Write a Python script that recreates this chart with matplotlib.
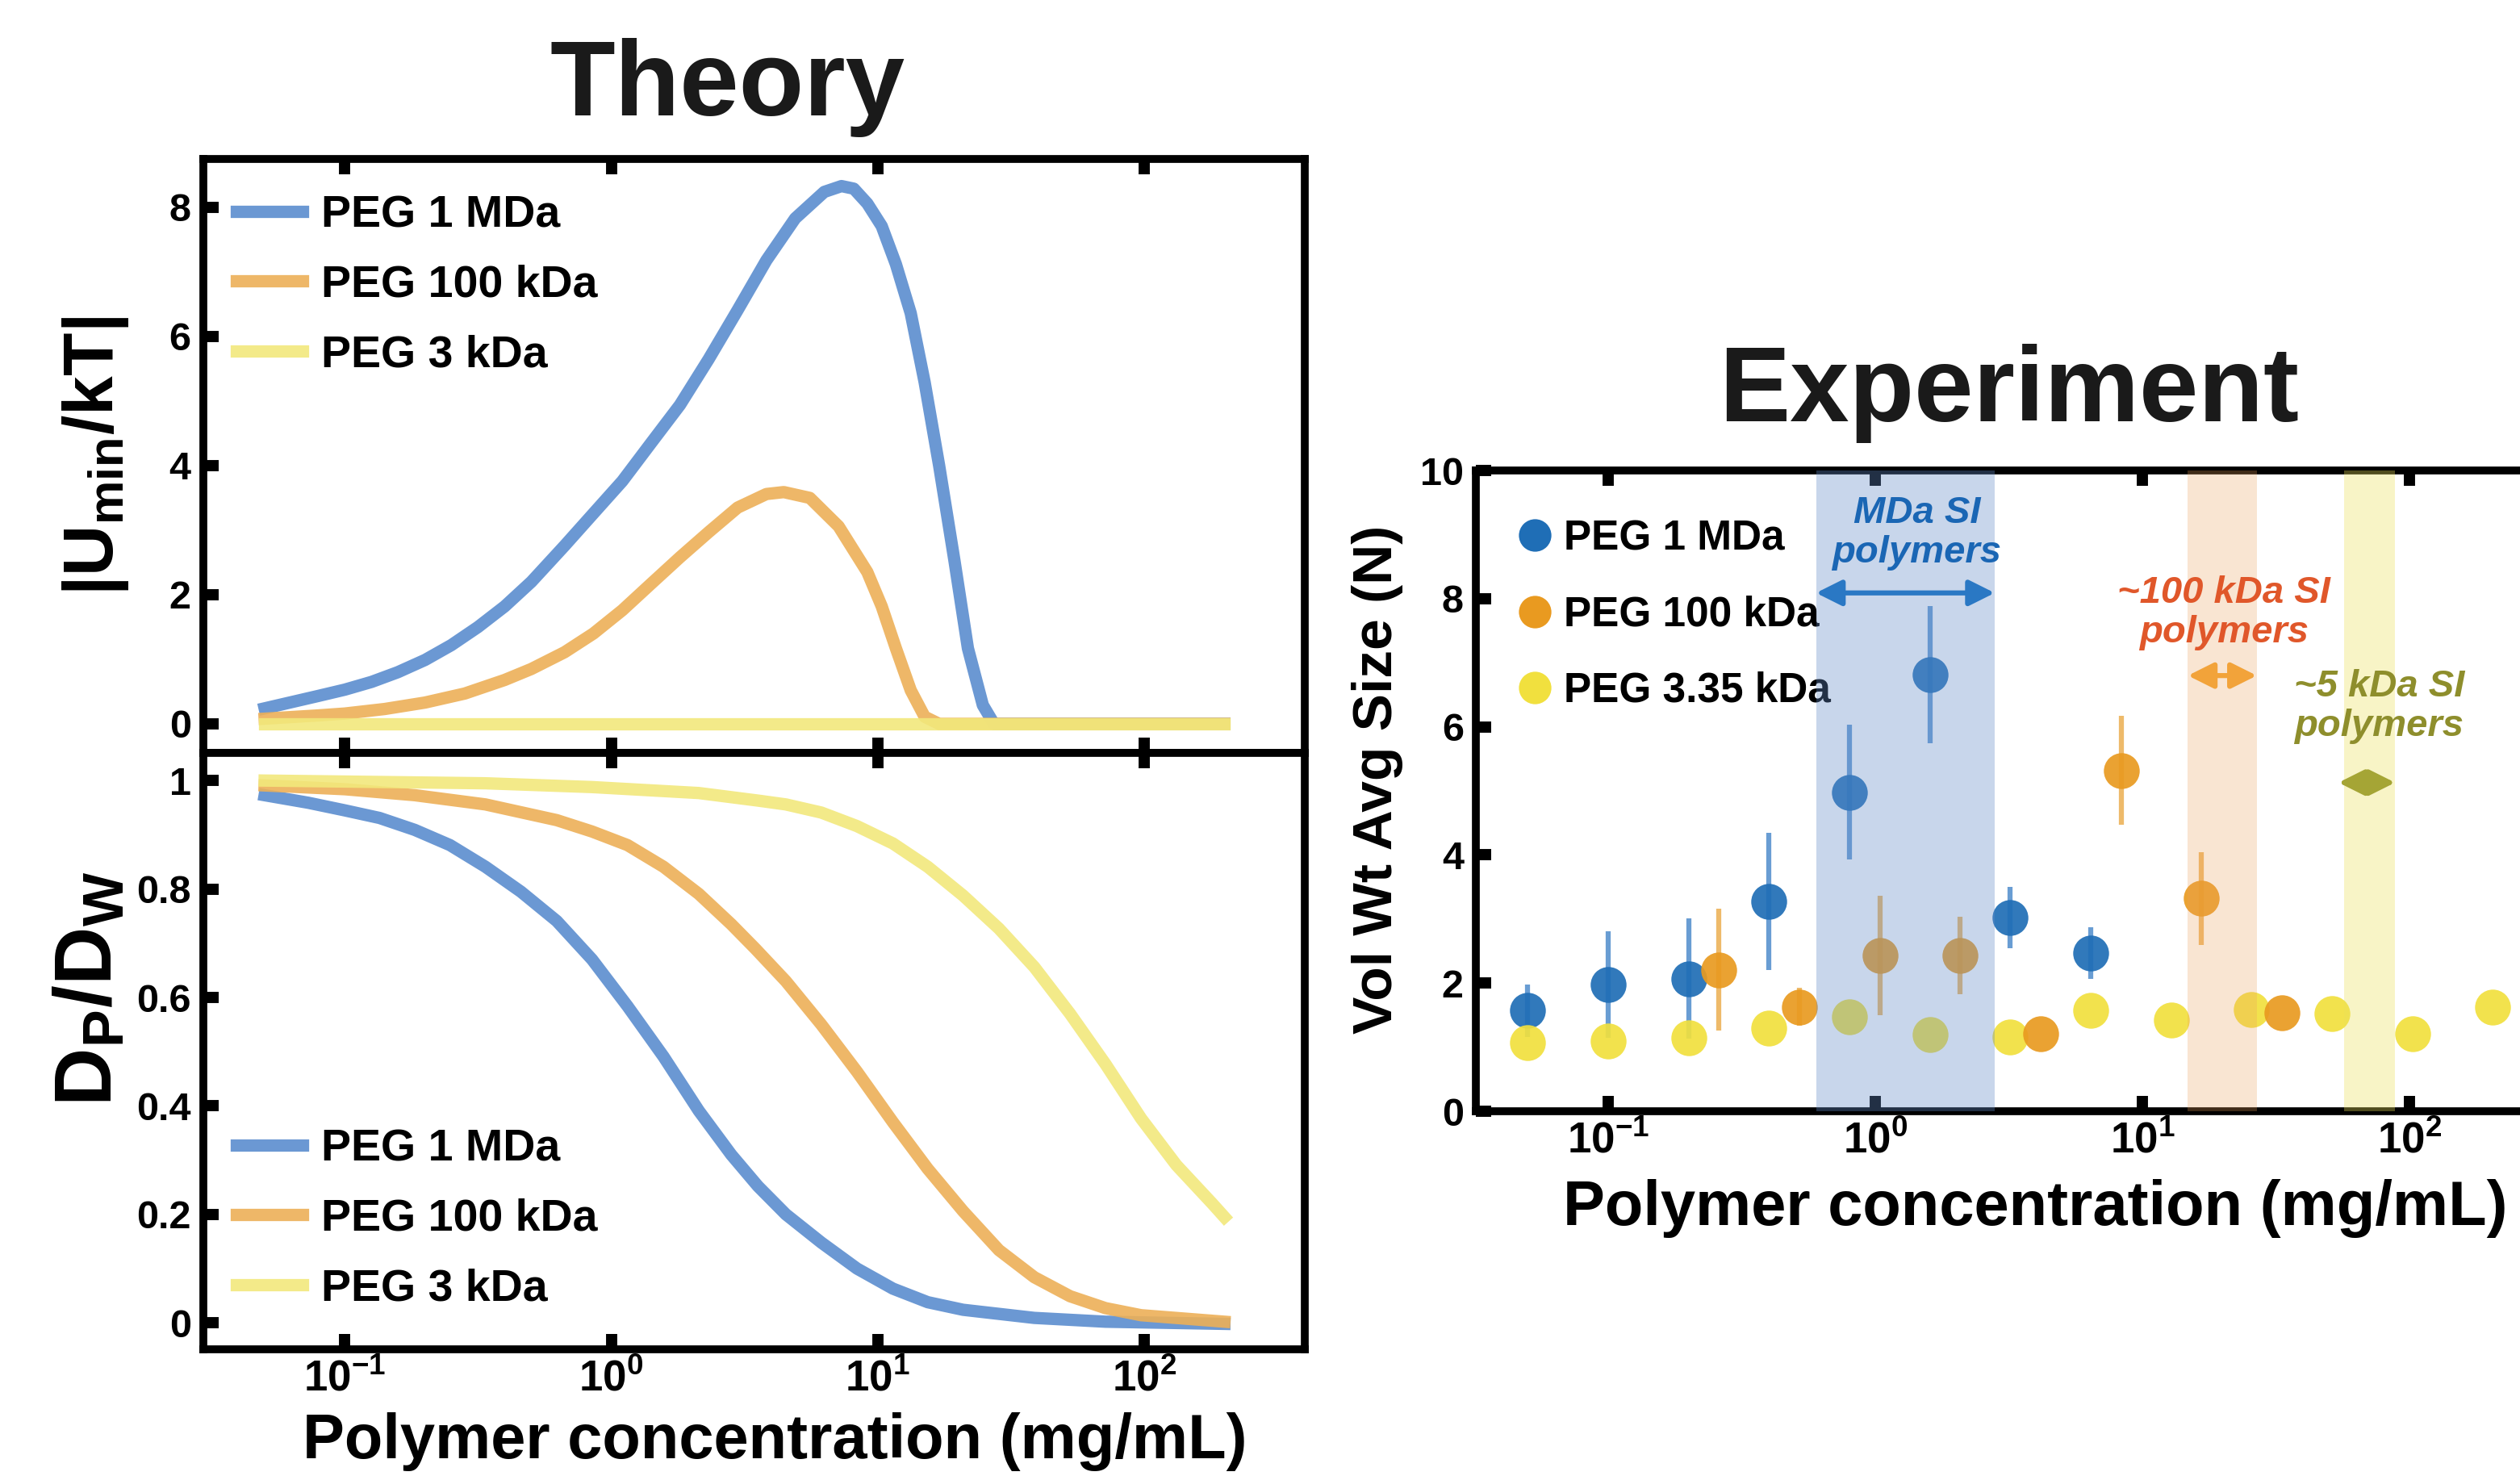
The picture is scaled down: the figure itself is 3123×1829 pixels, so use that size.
import matplotlib
matplotlib.use('Agg')
import matplotlib.pyplot as plt
from matplotlib.ticker import NullLocator

plt.rcParams['font.family'] = ['Liberation Sans', 'DejaVu Sans']
plt.rcParams['font.weight'] = 'bold'
plt.rcParams['axes.labelweight'] = 'bold'
plt.rcParams['mathtext.fontset'] = 'custom'
plt.rcParams['mathtext.rm'] = 'Liberation Sans:bold'
plt.rcParams['mathtext.it'] = 'Liberation Sans:italic:bold'
plt.rcParams['mathtext.bf'] = 'Liberation Sans:bold'
plt.rcParams['mathtext.default'] = 'rm'
plt.rcParams['axes.unicode_minus'] = False

# ---------------- data ----------------
theory_labels = ['PEG 1 MDa', 'PEG 100 kDa', 'PEG 3 kDa']
exp_labels = ['PEG 1 MDa', 'PEG 100 kDa', 'PEG 3.35 kDa']

# theory: |Umin/kT| vs concentration (mg/mL)
umin_1mda_c = [0.05, 0.079, 0.1, 0.126, 0.158, 0.2, 0.251, 0.316, 0.398, 0.501, 0.668, 0.857,
               1.10, 1.41, 1.81, 2.32, 2.98, 3.82, 4.90, 6.30, 7.31, 8.13, 9.14, 10.35, 11.7,
               13.3, 15.0, 17.0, 19.4, 21.8, 24.8, 27.3, 200]
umin_1mda = [0.24, 0.43, 0.53, 0.65, 0.80, 0.99, 1.22, 1.50, 1.82, 2.20, 2.76, 3.26,
             3.76, 4.35, 4.94, 5.65, 6.41, 7.18, 7.83, 8.24, 8.33, 8.29, 8.06, 7.71, 7.12,
             6.36, 5.29, 4.0, 2.53, 1.17, 0.29, 0.0, 0.0]
umin_100k_c = [0.05, 0.079, 0.1, 0.141, 0.2, 0.282, 0.398, 0.501, 0.668, 0.857, 1.10, 1.41,
               1.81, 2.32, 2.98, 3.82, 4.44, 5.56, 7.13, 9.14, 10.35, 11.7, 13.3, 15.0, 17.0, 200]
umin_100k = [0.08, 0.13, 0.16, 0.23, 0.33, 0.47, 0.68, 0.85, 1.11, 1.40, 1.76, 2.17,
             2.58, 2.97, 3.35, 3.56, 3.59, 3.50, 3.06, 2.35, 1.82, 1.17, 0.52, 0.11, 0.0, 0.0]
umin_3k_c = [0.05, 200]
umin_3k = [0.0, 0.0]

# theory: Dp/Dw vs concentration
dp_1mda_c = [0.05, 0.073, 0.1, 0.135, 0.183, 0.248, 0.337, 0.458, 0.624, 0.847, 1.15, 1.57,
             2.13, 2.82, 3.55, 4.52, 6.14, 8.36, 11.4, 15.4, 20.9, 38.7, 71.6, 200]
dp_1mda = [0.973, 0.959, 0.945, 0.931, 0.909, 0.881, 0.841, 0.795, 0.741, 0.670, 0.584, 0.491,
           0.391, 0.31, 0.252, 0.20, 0.148, 0.10, 0.063, 0.038, 0.024, 0.009, 0.002, -0.002]
dp_100k_c = [0.05, 0.1, 0.183, 0.337, 0.624, 0.847, 1.15, 1.57, 2.13, 2.82, 3.47, 4.52, 6.14,
             8.36, 11.4, 15.4, 20.9, 28.5, 38.7, 52.7, 71.6, 97.3, 200]
dp_100k = [0.991, 0.984, 0.973, 0.956, 0.927, 0.906, 0.881, 0.841, 0.791, 0.735, 0.69, 0.63, 0.55,
           0.463, 0.370, 0.284, 0.206, 0.134, 0.084, 0.049, 0.027, 0.014, 0.002]
dp_3k_c = [0.05, 0.337, 0.847, 2.13, 3.56, 4.52, 6.14, 8.36, 11.4, 15.4, 20.9, 28.5, 38.7,
           52.7, 71.6, 97.3, 132, 180, 200]
dp_3k = [1.0, 0.995, 0.988, 0.977, 0.963, 0.956, 0.941, 0.916, 0.884, 0.841, 0.788, 0.727, 0.656,
         0.570, 0.477, 0.377, 0.291, 0.220, 0.195]

# experiment: volume-weighted average size
exp_1mda_c = [0.05, 0.1, 0.2, 0.4, 0.8, 1.6, 3.2, 6.4]
exp_1mda_n = [1.57, 1.98, 2.07, 3.27, 4.98, 6.82, 3.02, 2.47]
exp_1mda_err = [0.41, 0.83, 0.94, 1.07, 1.05, 1.07, 0.48, 0.4]
exp_100k_c = [0.26, 0.52, 1.04, 2.08, 4.16, 8.32, 16.6, 33.3]
exp_100k_n = [2.21, 1.63, 2.43, 2.43, 1.21, 5.32, 3.32, 1.54]
exp_100k_err = [0.95, 0.3, 0.93, 0.6, 0.0, 0.85, 0.72, 0.0]
exp_335_c = [0.05, 0.1, 0.2, 0.4, 0.8, 1.6, 3.2, 6.4, 12.8, 25.6, 51.2, 102.4, 204.8]
exp_335_n = [1.07, 1.1, 1.15, 1.3, 1.48, 1.2, 1.16, 1.57, 1.43, 1.59, 1.53, 1.21, 1.63]

# shaded SI regions + annotations
band_lo = [0.6, 14.8, 56.7]
band_hi = [2.8, 26.8, 88.3]
arrow_lo = [0.6, 14.8, 54.2]
arrow_hi = [2.8, 26.8, 88.3]
arrow_y = [8.09, 6.8, 5.13]
note_text = ['MDa SI\npolymers', '~100 kDa SI\npolymers', '~5 kDa SI\npolymers']
note_x = [1.43, 20.2, 76.8]
note_y = [9.03, 7.78, 6.32]

u_ticks = [0, 2, 4, 6, 8]
dp_ticks = [0, 0.2, 0.4, 0.6, 0.8, 1]
dp_ticklabels = ['0', '0.2', '0.4', '0.6', '0.8', '1']
n_ticks = [0, 2, 4, 6, 8, 10]
x_ticks = [0.1, 1, 10, 100]

# ---------------- style ----------------
line_cols = ['#5b8dcf', '#edb057', '#f2e87c']
pt_cols = ['#1f6eb6', '#e99a20', '#f1e03e']
err_cols = ['#4f8ccc', '#ebae50', '#f1e03e']
band_cols = ['#648cc8', '#eba05a', '#ebe15a']
band_alpha = [0.35, 0.27, 0.34]
note_cols = ['#1a66b4', '#e0572a', '#8e8e2c']
arrow_cols = ['#2a78c4', '#f2a33a', '#a5a535']


def style_axes(ax):
    ax.set_xscale('log')
    for s in ax.spines.values():
        s.set_linewidth(7)
    ax.xaxis.set_minor_locator(NullLocator())
    ax.tick_params(which='major', direction='in', length=14, width=10,
                   top=True, bottom=True, left=True, right=False, labelsize=35, pad=11)
    ax.tick_params(axis='x', labelsize=38, pad=9)
    ax.set_xticks(x_ticks)


fig = plt.figure(figsize=(31.23, 18.29), dpi=100)
fig.patch.set_facecolor('white')

ax_u = fig.add_axes([0.0807, 0.4899, 0.4371, 0.4024])
ax_d = fig.add_axes([0.0807, 0.0858, 0.4371, 0.4041])
ax_e = fig.add_axes([0.5857, 0.2471, 0.4326, 0.4341])

# --- theory top
for c, v, col, lab in zip([umin_1mda_c, umin_100k_c, umin_3k_c],
                          [umin_1mda, umin_100k, umin_3k], line_cols, theory_labels):
    ax_u.plot(c, v, color=col, lw=11, alpha=0.9, label=lab, solid_joinstyle='round')
style_axes(ax_u)
ax_u.set_xlim(0.02944, 400.9)
ax_u.set_ylim(-0.45, 8.75)
ax_u.set_yticks(u_ticks)
ax_u.tick_params(labelbottom=False)
ax_u.set_ylabel(r'$|U_{min}/kT|$', fontsize=63, fontweight='bold')
ax_u.yaxis.set_label_coords(-0.066, 0.50)
ax_u.legend(loc='upper left', bbox_to_anchor=(0.030, 0.94), frameon=False, fontsize=40,
            handlelength=1.47, handletextpad=0.42, labelspacing=0.62, borderpad=0, borderaxespad=0)

# --- theory bottom
for c, v, col, lab in zip([dp_1mda_c, dp_100k_c, dp_3k_c],
                          [dp_1mda, dp_100k, dp_3k], line_cols, theory_labels):
    ax_d.plot(c, v, color=col, lw=11, alpha=0.9, label=lab, solid_joinstyle='round')
style_axes(ax_d)
ax_d.set_xlim(0.02944, 400.9)
ax_d.set_ylim(-0.049, 1.051)
ax_d.set_yticks(dp_ticks)
ax_d.set_yticklabels(dp_ticklabels)
ax_d.set_ylabel(r'$D_P/D_W$', fontsize=72, fontweight='bold')
ax_d.yaxis.set_label_coords(-0.068, 0.605)
ax_d.set_xlabel('Polymer concentration (mg/mL)', fontsize=56, fontweight='bold')
ax_d.xaxis.label.set_va('baseline')
ax_d.xaxis.set_label_coords(0.519, -0.183)
ax_d.legend(loc='lower left', bbox_to_anchor=(0.030, 0.066), frameon=False, fontsize=40,
            handlelength=1.47, handletextpad=0.42, labelspacing=0.62, borderpad=0, borderaxespad=0)

# --- experiment
err_sets = [(exp_1mda_c, exp_1mda_n, exp_1mda_err, 0),
            (exp_335_c, exp_335_n, None, 2),
            (exp_100k_c, exp_100k_n, exp_100k_err, 1)]
z = 3
for c, n, e, k in err_sets:
    if e is not None:
        ax_e.errorbar(c, n, yerr=e, fmt='none', ecolor=err_cols[k], elinewidth=4.5,
                      capsize=0, alpha=0.85, zorder=z)
    ax_e.plot(c, n, 'o', color=pt_cols[k], markersize=32, markeredgewidth=0,
              alpha=0.92, zorder=z + 0.5)
    z += 1

for lo, hi, col, a in zip(band_lo, band_hi, band_cols, band_alpha):
    ax_e.axvspan(lo, hi, color=col, alpha=a, lw=0, zorder=8)

for lo, hi, y, col in zip(arrow_lo, arrow_hi, arrow_y, arrow_cols):
    ax_e.annotate('', xy=(hi, y), xytext=(lo, y),
                  arrowprops=dict(arrowstyle='<|-|>', color=col, lw=4.5,
                                  mutation_scale=48, shrinkA=0, shrinkB=0), zorder=9)

for t, x, y, col in zip(note_text, note_x, note_y, note_cols):
    ax_e.text(x, y, t, color=col, fontsize=34, fontweight='bold', fontstyle='italic',
              ha='center', va='center', linespacing=1.15, zorder=10)

style_axes(ax_e)
ax_e.set_xlim(0.032, 385.5)
ax_e.set_ylim(0, 10)
ax_e.set_yticks(n_ticks)
ax_e.set_ylabel('Vol Wt Avg Size (N)', fontsize=50, fontweight='bold')
ax_e.yaxis.set_label_coords(-0.067, 0.518)
ax_e.set_xlabel('Polymer concentration (mg/mL)', fontsize=56, fontweight='bold')
ax_e.xaxis.label.set_va('baseline')
ax_e.xaxis.set_label_coords(0.513, -0.178)

# legend with plain circles
handles = [plt.Line2D([], [], ls='none', marker='o', color=pt_cols[k], markersize=29,
                      markeredgewidth=0) for k in range(3)]
ax_e.legend(handles, exp_labels, loc='upper left', bbox_to_anchor=(0.039, 0.924), frameon=False,
            fontsize=37, handlelength=0.8, handletextpad=0.3, labelspacing=0.88,
            borderpad=0, borderaxespad=0)

# titles
fig.text(0.2888, 0.9218, 'Theory', fontsize=95, fontweight='bold', ha='center', va='baseline',
         color='#1a1a1a')
fig.text(0.7973, 0.7146, 'Experiment', fontsize=95, fontweight='bold', ha='center', va='baseline',
         color='#1a1a1a')

fig.savefig('out.png', dpi=100, facecolor='white')
